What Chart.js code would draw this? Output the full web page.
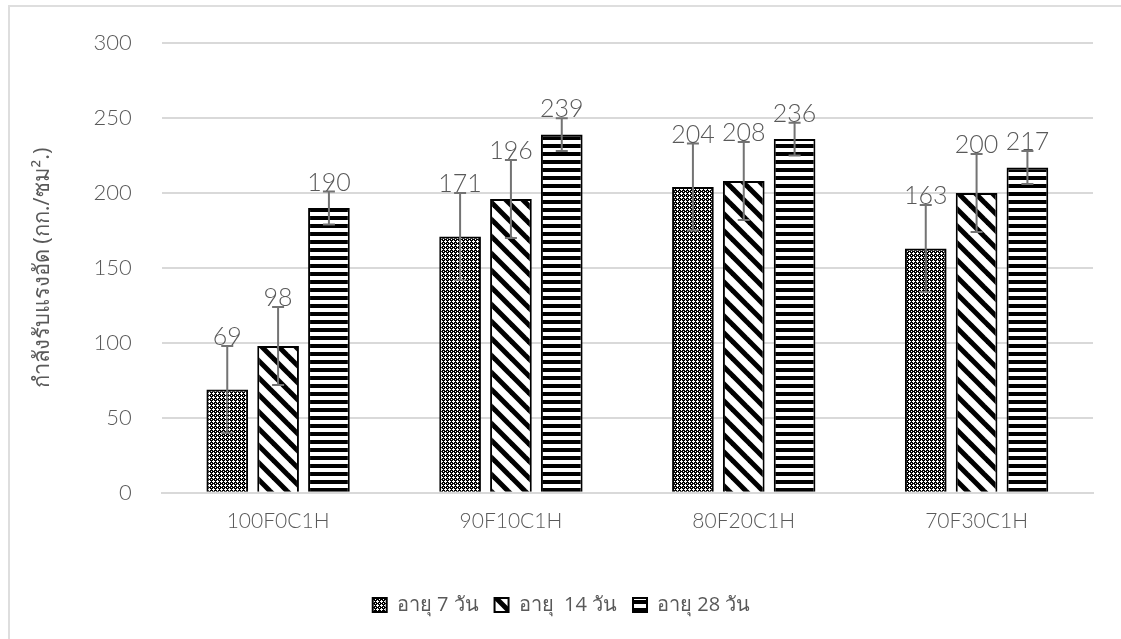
<!DOCTYPE html>
<html>
<head>
<meta charset="utf-8">
<script src="https://cdn.jsdelivr.net/npm/chart.js@4"></script>
<style>
  html, body { margin: 0; padding: 0; background: #fff; }
  #frame { position: absolute; left: 8px; top: 5px; width: 1120px; height: 640px;
           border-top: 2px solid #dedede; border-left: 2px solid #dedede; }
  #wrap { position: absolute; left: 0; top: 0; width: 1121px; height: 639px; }
</style>
</head>
<body>
<div id="frame"></div>
<div id="wrap"><canvas id="chart"></canvas></div>
<script>
// chart data
var categories = ['100F0C1H', '90F10C1H', '80F20C1H', '70F30C1H'];
var seriesNames = ['อายุ 7 วัน', 'อายุ  14 วัน', 'อายุ 28 วัน'];
var age7 = [69, 171, 204, 163];
var age14 = [98, 196, 208, 200];
var age28 = [190, 239, 236, 217];
var err7 = [29, 29, 29, 29];
var err14 = [26, 26, 26, 26];
var err28 = [11, 11, 11, 11];
var yTicks = [0, 50, 100, 150, 200, 250, 300];

var FONT = "Lato, 'Open Sans', sans-serif";
var THAI = "'Open Sans', sans-serif";
var TEXT = '#595959';

function makePattern(kind){
  var c = document.createElement('canvas');
  var ctx = c.getContext('2d');
  if(kind == 'dots'){
    c.width = 4; c.height = 4;
    ctx.fillStyle = '#000';
    ctx.fillRect(0, 0, 4, 4);
    ctx.fillStyle = '#fff';
    ctx.fillRect(1, 0, 1, 1);
    ctx.fillRect(0, 1, 3, 1);
    ctx.fillRect(1, 2, 1, 1);
    ctx.fillRect(3, 3, 1, 1);
  } else if(kind == 'diag'){
    c.width = 17; c.height = 17;
    ctx.fillStyle = '#fff';
    ctx.fillRect(0, 0, 17, 17);
    ctx.strokeStyle = '#000';
    ctx.lineWidth = 5;
    for(var k = -17; k <= 17; k += 17){
      ctx.beginPath();
      ctx.moveTo(k - 2, -2);
      ctx.lineTo(k + 19, 19);
      ctx.stroke();
    }
  } else {
    c.width = 8; c.height = 8;
    ctx.fillStyle = '#fff';
    ctx.fillRect(0, 0, 8, 8);
    ctx.fillStyle = '#000';
    ctx.fillRect(0, 0, 8, 4);
  }
  return document.getElementById('chart').getContext('2d').createPattern(c, 'repeat');
}

var patterns = [makePattern('dots'), makePattern('diag'), makePattern('horiz')];
var values = [age7, age14, age28];
var errors = [err7, err14, err28];

var datasets = [];
for(var i = 0; i < 3; i++){
  datasets.push({
    label: seriesNames[i],
    data: values[i],
    errors: errors[i],
    backgroundColor: patterns[i],
    borderColor: '#000',
    borderWidth: 2,
    borderSkipped: 'bottom',
    barPercentage: 0.82,
    categoryPercentage: 0.655
  });
}

// error bars + value labels, drawn from the scale
var errorBars = {
  id: 'errorBars',
  afterDatasetsDraw: function(chart){
    var ctx = chart.ctx;
    var y = chart.scales.y;
    ctx.save();
    chart.data.datasets.forEach(function(ds, di){
      var meta = chart.getDatasetMeta(di);
      meta.data.forEach(function(bar, j){
        var v = ds.data[j], e = ds.errors[j];
        var top = y.getPixelForValue(v + e);
        var bot = y.getPixelForValue(v - e);
        ctx.strokeStyle = '#737373';
        ctx.lineWidth = 2;
        ctx.beginPath();
        ctx.moveTo(bar.x, top); ctx.lineTo(bar.x, bot);
        ctx.moveTo(bar.x - 6, top); ctx.lineTo(bar.x + 6, top);
        ctx.moveTo(bar.x - 6, bot); ctx.lineTo(bar.x + 6, bot);
        ctx.stroke();
        ctx.fillStyle = TEXT;
        ctx.font = '300 25px ' + FONT;
        ctx.textAlign = 'center';
        ctx.textBaseline = 'alphabetic';
        ctx.fillText(String(v), bar.x, top - 1);
      });
    });
    ctx.restore();
  }
};

new Chart(document.getElementById('chart'), {
  type: 'bar',
  data: { labels: categories, datasets: datasets },
  plugins: [errorBars],
  options: {
    responsive: true,
    maintainAspectRatio: false,
    animation: false,
    layout: { padding: { left: 30, right: 28, top: 31, bottom: 14 } },
    plugins: {
      tooltip: { enabled: false },
      legend: {
        position: 'bottom',
        labels: {
          color: TEXT,
          font: { family: THAI, size: 20 },
          boxWidth: 14,
          boxHeight: 14,
          padding: 16
        }
      }
    },
    scales: {
      x: {
        grid: { display: false, drawTicks: false },
        border: { color: '#d9d9d9', width: 2 },
        ticks: { color: TEXT, font: { family: FONT, size: 21, weight: 300 }, padding: 16 },
        afterFit: function(s){ s.height += 29; }
      },
      y: {
        min: 0,
        max: 300,
        afterBuildTicks: function(axis){
          axis.ticks = yTicks.map(function(t){ return { value: t }; });
        },
        grid: { color: '#d9d9d9', lineWidth: 2, drawTicks: false },
        border: { display: false },
        ticks: { color: TEXT, font: { family: FONT, size: 22, weight: 300 }, padding: 30 },
        title: {
          display: true,
          text: 'กำลังรับแรงอัด (กก./ซม².)',
          color: TEXT,
          font: { family: THAI, size: 22 },
          padding: { top: 0, bottom: 7 }
        }
      }
    }
  }
});
</script>
</body>
</html>
